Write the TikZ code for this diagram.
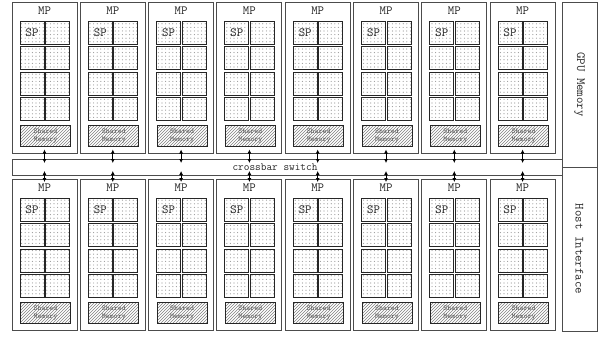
\documentclass[tikz,border=0pt]{standalone}
\usetikzlibrary{patterns,arrows.meta}
\pgfdeclarepatternformonly{sparsedots}{\pgfqpoint{-1pt}{-1pt}}{\pgfqpoint{1pt}{1pt}}{\pgfqpoint{3.6pt}{3.6pt}}{%
  \pgfpathcircle{\pgfqpoint{0pt}{0pt}}{0.6pt}\pgfusepath{fill}}
\begin{document}
\begin{tikzpicture}[x=1pt,y=-1pt,
  mpbox/.style={draw=black!70,line width=0.9pt,minimum width=65pt,minimum height=151.5pt,anchor=north west,inner sep=0pt,outer sep=0pt},
  cell/.style={draw=black!85,line width=1pt,pattern=sparsedots,pattern color=black!40,minimum width=24pt,minimum height=23pt,anchor=north west,inner sep=0pt,outer sep=0pt},
  shmem/.style={draw=black!85,line width=1pt,pattern=north east lines,pattern color=black!50,minimum width=50pt,minimum height=21pt,anchor=north west,inner sep=0pt,align=center,font=\ttfamily\fontsize{7.5}{8.5}\selectfont,text=black!65},
  lbl/.style={font=\ttfamily\fontsize{12.5}{13}\selectfont,text=black!85,inner sep=0pt},
  panel/.style={draw=black!70,line width=0.9pt,anchor=north west,inner sep=0pt,outer sep=0pt},
  dbl/.style={{Latex[length=4pt,width=4pt]}-{Latex[length=4pt,width=4pt]},line width=1pt,black}
]
\useasboundingbox (0,0) rectangle (599,337);
% crossbar and side panels
\node[panel,minimum width=550pt,minimum height=16pt] (xbar) at (12,159) {};
\node[font=\ttfamily\fontsize{11}{12}\selectfont,text=black!85,inner sep=0pt] (xlbl) at (275,167) {crossbar switch};
\node[panel,minimum width=35pt,minimum height=165pt] (gpu) at (562,2) {};
\node[panel,minimum width=35pt,minimum height=164pt] (host) at (562,167) {};
\node[lbl,rotate=-90] (gpulbl) at (gpu.center) {GPU Memory};
\node[lbl,rotate=-90] (hostlbl) at (host.center) {Host Interface};
% multiprocessors
\foreach \i in {1,...,8}{
  \pgfmathsetmacro\L{12+68.3*(\i-1)}
  \foreach \r/\y in {t/2,b/179}{
    \node[mpbox] (\r\i) at (\L,\y) {};
    \node[lbl] (\r\i mp) at (\L+32.5,\y+9) {MP};
    \foreach \k in {0,...,3}{
      \node[cell] (\r\i c\k a) at (\L+8,\y+19.5+25.3*\k) {};
      \node[cell] (\r\i c\k b) at (\L+33.5,\y+19.5+25.3*\k) {};
    }
    \node[lbl] (\r\i sp) at (\r\i c0a.center) {SP};
    \node[shmem] (\r\i sm) at (\L+8,\y+123) {Shared\\Memory};
  }
  \draw[dbl,shorten <=-4pt,shorten >=-4pt] (t\i.south) -- (t\i.south |- xbar.north);
  \draw[dbl,shorten <=-4pt,shorten >=-3pt] (xbar.south -| b\i.north) -- (b\i.north);
}
\end{tikzpicture}
\end{document}
